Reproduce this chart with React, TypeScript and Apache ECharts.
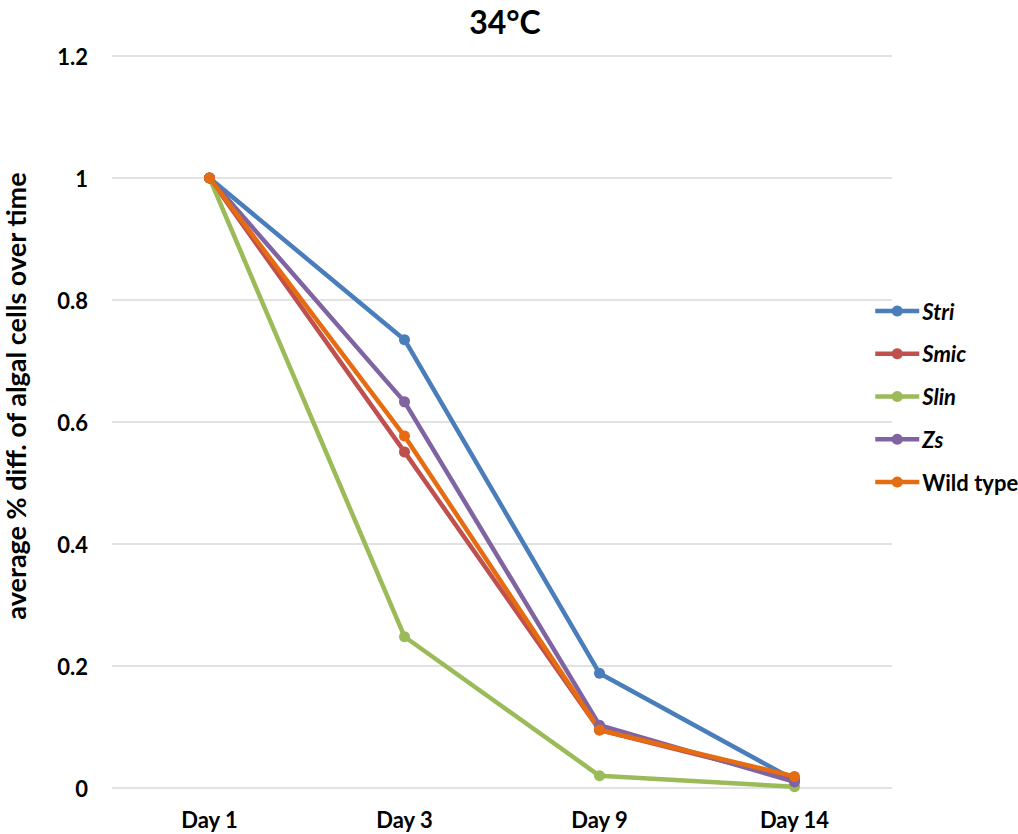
import React, { useEffect, useRef } from "react";
import * as echarts from "echarts";

const categories = ["Day 1", "Day 3", "Day 9", "Day 14"];
const seriesNames = ["Stri", "Smic", "Slin", "Zs", "Wild type"];
const stri = [1, 0.735, 0.188, 0.013];
const smic = [1, 0.551, 0.095, 0.015];
const slin = [1, 0.248, 0.02, 0.002];
const zs = [1, 0.633, 0.103, 0.01];
const wildType = [1, 0.577, 0.095, 0.019];
const yTicks = { min: 0, max: 1.2, interval: 0.2 };

const colors = ["#4A7EBB", "#C0504D", "#9BBB59", "#8064A2", "#E66C11"];
const FONT = "Lato, 'Open Sans', sans-serif";

export default function App() {
  const ref = useRef<HTMLDivElement>(null);
  useEffect(() => {
    if (!ref.current) return;
    const chart = echarts.init(ref.current, undefined, { renderer: "svg" });
    const data = [stri, smic, slin, zs, wildType];
    chart.setOption({
      animation: false,
      backgroundColor: "#ffffff",
      title: {
        text: "34°C",
        left: 500,
        top: 0,
        textAlign: "center",
        textStyle: { fontFamily: FONT, fontWeight: "bold", fontSize: 32, color: "#000" },
      },
      grid: { left: 112, right: 126, top: 56, bottom: 46, containLabel: false },
      legend: {
        orient: "vertical",
        left: 868,
        top: 295,
        itemWidth: 44,
        itemHeight: 14,
        itemGap: 20.75,
        data: seriesNames,
        lineStyle: { width: 4.5 },
        formatter: (name: string) => (name === "Wild type" ? `{n|${name}}` : `{i|${name}}`),
        textStyle: {
          fontFamily: FONT,
          fontSize: 22,
          fontWeight: "bold",
          color: "#000",
          padding: [0, 0, 0, -2],
          rich: {
            i: { fontFamily: FONT, fontSize: 22, lineHeight: 24, fontWeight: "bold", fontStyle: "italic", color: "#000" },
            n: { fontFamily: FONT, fontSize: 22, lineHeight: 24, fontWeight: "bold", color: "#000" },
          },
        },
      },
      xAxis: {
        type: "category",
        data: categories,
        boundaryGap: true,
        axisLine: { show: false },
        axisTick: { show: false },
        axisLabel: { fontFamily: FONT, fontWeight: "bold", fontSize: 22, color: "#000", margin: 20 },
      },
      yAxis: {
        type: "value",
        min: yTicks.min,
        max: yTicks.max,
        interval: yTicks.interval,
        axisLine: { show: false },
        axisTick: { show: false },
        splitLine: { lineStyle: { color: "#d9d9d9", width: 1.5 } },
        axisLabel: {
          fontFamily: FONT,
          fontWeight: "bold",
          fontSize: 22,
          color: "#000",
          margin: 24,
          formatter: (v: number) => String(Math.round(v * 10) / 10),
        },
      },
      graphic: [
        {
          type: "text",
          x: 15,
          y: 396,
          rotation: Math.PI / 2,
          style: {
            text: "average % diff. of algal cells over time",
            fontFamily: FONT,
            fontWeight: "bold",
            fontSize: 27,
            fill: "#000",
            textAlign: "center",
            textVerticalAlign: "middle",
          },
        },
      ],
      series: seriesNames.map((name, i) => ({
        name,
        type: "line",
        data: data[i],
        symbol: "circle",
        symbolSize: 11,
        color: colors[i],
        lineStyle: { width: 4.5, color: colors[i] },
        itemStyle: { color: colors[i] },
      })),
    });
    return () => chart.dispose();
  }, []);
  return (
    <div
      ref={ref}
      style={{ position: "absolute", left: 0, top: 0, width: 1018, height: 834 }}
    />
  );
}
